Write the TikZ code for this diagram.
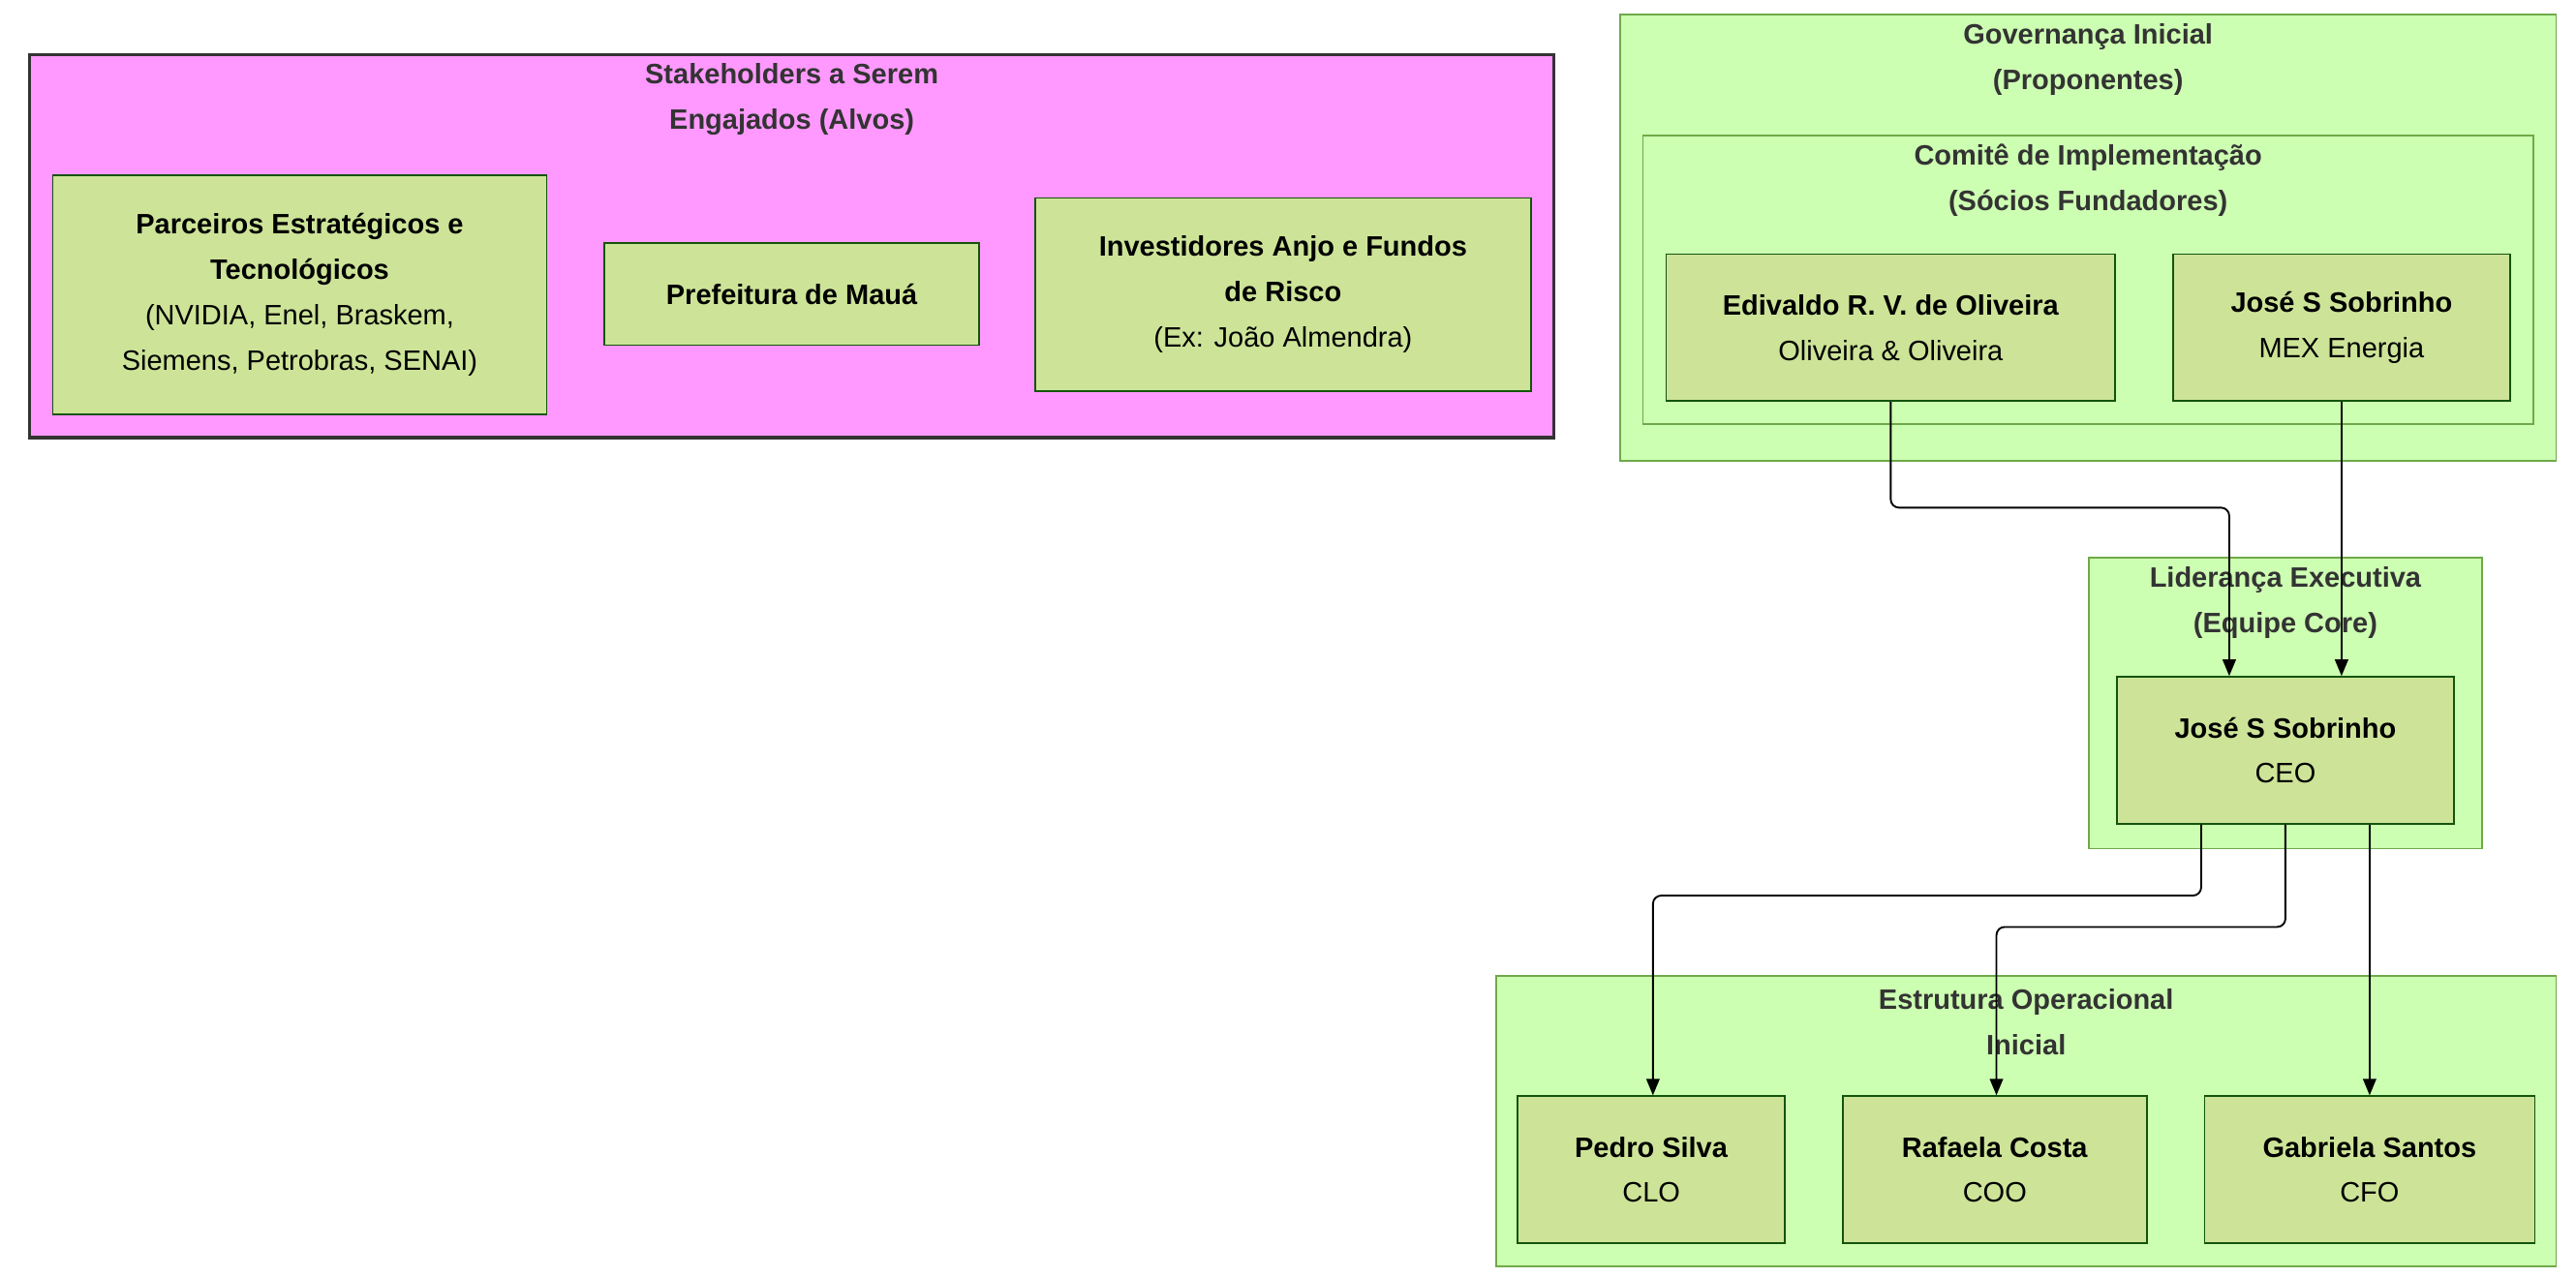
\documentclass[tikz,border=0pt]{standalone}
\usepackage{fontspec}
\setmainfont{Liberation Sans}
\usetikzlibrary{arrows.meta}
\definecolor{nodefill}{HTML}{CDE498}
\definecolor{nodeborder}{HTML}{13540C}
\definecolor{clfill}{HTML}{CDFFB2}
\definecolor{clborder}{HTML}{6EAA49}
\definecolor{pinkfill}{HTML}{FF99FF}
\definecolor{pinkborder}{HTML}{333333}
\definecolor{titlecol}{HTML}{333333}
\begin{document}
\begin{tikzpicture}[x=1pt,y=-1pt,
  nodebox/.style={draw=nodeborder, fill=nodefill, line width=1pt, align=center, inner sep=0pt, font=\fontsize{17}{27.5}\selectfont, text=black},
  cluster/.style={draw=clborder, fill=clfill, line width=1pt, inner sep=0pt},
  pinkcluster/.style={draw=pinkborder, fill=pinkfill, line width=2pt, inner sep=0pt},
  cltitle/.style={align=center, font=\bfseries\fontsize{17}{27.5}\selectfont, text=titlecol, inner sep=0pt},
  edge/.style={draw=black, line width=1.1pt, rounded corners=5pt, -{Triangle[length=10pt,width=8pt]}}
]
\useasboundingbox (0,0) rectangle (1560,773);
\fill[white] (0,0) rectangle (1560,773);

% clusters
\node[pinkcluster, minimum width=923pt, minimum height=232pt] (stake) at (479.5,149) {};
\node[cluster, minimum width=567pt, minimum height=270pt] (gov) at (1264.5,144) {};
\node[cluster, minimum width=539pt, minimum height=175pt] (com) at (1264.5,169.5) {};
\node[cluster, minimum width=238pt, minimum height=176pt] (lid) at (1384,426) {};
\node[cluster, minimum width=642pt, minimum height=176pt] (est) at (1227,679) {};

% cluster titles
\node[cltitle] (tstake) at (479.5,60) {Stakeholders a Serem\\Engajados (Alvos)};
\node[cltitle] (tgov) at (1264.5,36) {Governança Inicial\\(Proponentes)};
\node[cltitle] (tcom) at (1264.5,109) {Comitê de Implementação\\(Sócios Fundadores)};
\node[cltitle] (tlid) at (1384,365) {Liderança Executiva\\(Equipe Core)};
\node[cltitle] (test) at (1227,619) {Estrutura Operacional\\Inicial};

% nodes
\node[nodebox, minimum width=299pt, minimum height=145pt] (parc) at (181.5,178.5)
  {\textbf{Parceiros Estratégicos e}\\\textbf{Tecnológicos}\\(NVIDIA, Enel, Braskem,\\Siemens, Petrobras, SENAI)};
\node[nodebox, minimum width=227pt, minimum height=62pt] (pref) at (479.5,178)
  {\textbf{Prefeitura de Mauá}};
\node[nodebox, minimum width=300pt, minimum height=117pt] (inv) at (777,178.5)
  {\textbf{Investidores Anjo e Fundos}\\\textbf{de Risco}\\(Ex: João Almendra)};

\node[nodebox, minimum width=272pt, minimum height=89pt] (edi) at (1145,198.5)
  {\textbf{Edivaldo R. V. de Oliveira}\\Oliveira \& Oliveira};
\node[nodebox, minimum width=204pt, minimum height=89pt] (jmex) at (1418,198.5)
  {\textbf{José S Sobrinho}\\MEX Energia};
\node[nodebox, minimum width=204pt, minimum height=89pt] (ceo) at (1384,454.5)
  {\textbf{José S Sobrinho}\\CEO};
\node[nodebox, minimum width=162pt, minimum height=89pt] (pedro) at (1000,708.5)
  {\textbf{Pedro Silva}\\CLO};
\node[nodebox, minimum width=184pt, minimum height=89pt] (rafa) at (1208,708.5)
  {\textbf{Rafaela Costa}\\COO};
\node[nodebox, minimum width=200pt, minimum height=89pt] (gabi) at (1435,708.5)
  {\textbf{Gabriela Santos}\\CFO};

% edges
\draw[edge] (edi.south) -- ++(0,64) -| ([xshift=-34pt]ceo.north);
\draw[edge] (jmex.south) -- (jmex.south |- ceo.north);
\draw[edge] ([xshift=-51pt]ceo.south) -- ++(0,43) -| ([xshift=1pt]pedro.north);
\draw[edge] (ceo.south) -- ++(0,62) -| ([xshift=1pt]rafa.north);
\draw[edge] ([xshift=51pt]ceo.south) -- (gabi.north);
\end{tikzpicture}
\end{document}
